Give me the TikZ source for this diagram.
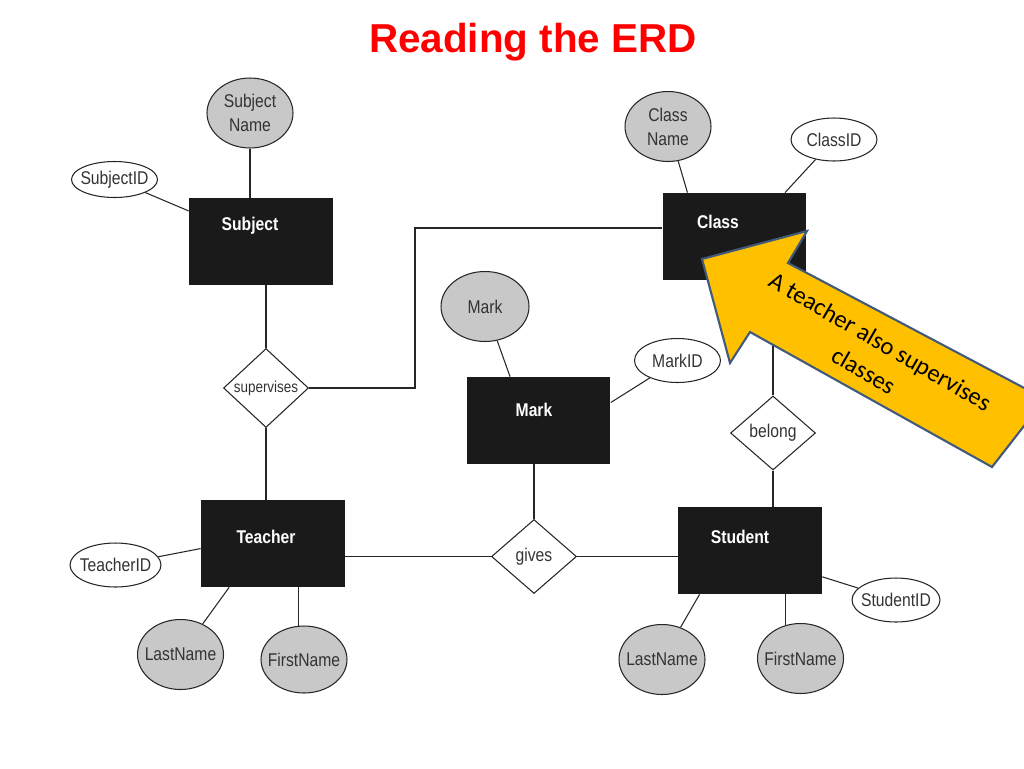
\documentclass[tikz,border=0pt]{standalone}
\usepackage{fontspec}
\newfontfamily\erdfont{Liberation Sans}[FakeStretch=0.85]
\newfontfamily\notefont{Carlito}
\newfontfamily\titlefont{Liberation Sans}
\usetikzlibrary{shapes.geometric}
\definecolor{erdgrey}{HTML}{C8C8C8}
\definecolor{erdline}{HTML}{262626}
\definecolor{erdtext}{HTML}{333333}
\definecolor{erdbox}{HTML}{1A1A1A}
\definecolor{notefill}{HTML}{FFC000}
\definecolor{noteline}{HTML}{41597A}
\definecolor{titlered}{HTML}{FF0000}
\begin{document}
\begin{tikzpicture}[x=0.02cm,y=-0.02cm,
	font=\erdfont\fontsize{10.5}{13.6}\selectfont,text=erdtext,
	entity/.style={rectangle,fill=erdbox,minimum width=2.88cm,minimum height=1.74cm,inner sep=0pt},
	ename/.style={text=white,font=\erdfont\bfseries\fontsize{10.5}{12.6}\selectfont},
	relation/.style={diamond,draw=erdline,fill=white,line width=0.6pt,inner sep=0pt,minimum width=1.7cm,minimum height=1.48cm},
	attr/.style={ellipse,draw=erdline,line width=0.6pt,inner sep=0pt,minimum width=1.72cm,minimum height=1.4cm},
	nameattr/.style={attr,fill=erdgrey},
	keyattr/.style={attr,fill=white,minimum height=0.88cm},
	link/.style={draw=erdline,line width=0.6pt}]
	\useasboundingbox (0,0) rectangle (1024,768);
	\node[text=titlered,font=\titlefont\bfseries\fontsize{23}{27}\selectfont,anchor=base] (title) at (533,52) {Reading the ERD};
	\node[entity,label={[ename,xshift=-0.22cm,yshift=0.31cm]center:Subject}] (subject) at (261,241.5) {};
	\node[entity,label={[ename,xshift=-0.33cm,yshift=0.29cm]center:Class}] (class) at (734.5,236.5) {};
	\node[entity,label={[ename,xshift=-0.09cm,yshift=0.21cm]center:Mark}] (mark) at (538.5,420.5) {};
	\node[entity,label={[ename,xshift=-0.14cm,yshift=0.13cm]center:Teacher}] (teacher) at (273,543.5) {};
	\node[entity,label={[ename,xshift=-0.2cm,yshift=0.27cm]center:Student}] (student) at (750,550.5) {};
	\node[relation,font=\erdfont\fontsize{9}{11}\selectfont] (supervises) at (266,388) {supervises};
	\node[relation] (gives) at (534,556.5) {gives};
	\node[relation] (belong) at (773,433) {belong};
	\node[nameattr,label={[align=center]center:Subject\\Name}] (subjname) at (250,113) {};
	\node[keyattr,minimum height=0.72cm,label=center:SubjectID] (subjid) at (114.5,179.5) {};
	\node[nameattr,label={[align=center]center:Class\\Name}] (classname) at (668,126.5) {};
	\node[keyattr,minimum height=0.86cm,label=center:ClassID] (classid) at (834,139.5) {};
	\node[nameattr,minimum width=1.76cm,label=center:Mark] (markattr) at (485,306.5) {};
	\node[keyattr,label=center:MarkID] (markid) at (677.5,360.5) {};
	\node[keyattr,minimum width=1.82cm,label=center:TeacherID] (teacherid) at (115.5,565) {};
	\node[nameattr,label=center:LastName] (tlast) at (180.5,654.5) {};
	\node[nameattr,minimum height=1.34cm,label=center:FirstName] (tfirst) at (304,659.5) {};
	\node[nameattr,label=center:LastName] (slast) at (662,659.5) {};
	\node[nameattr,label=center:FirstName] (sfirst) at (800.5,658.5) {};
	\node[keyattr,minimum width=1.76cm,label=center:StudentID] (studentid) at (896,600) {};
	\coordinate (bend) at (415,228);
	\draw[link] (subjname) -- (subjname |- subject.north);
	\draw[link] (subjid) -- (subject);
	\draw[link] (supervises.north) -- (supervises.north |- subject.south);
	\draw[link] (supervises.south) -- (supervises.south |- teacher.north);
	\draw[link] (supervises.east) -| (bend) -- (bend -| class.west);
	\draw[link] (class.137) -- (classname);
	\draw[link] (class.41) -- (classid);
	\draw[link] (belong.north) -- (belong.north |- class.south);
	\draw[link] (belong.south) -- (belong.south |- student.north);
	\draw[link] (mark.123) -- (markattr);
	\draw[link] (mark.14) -- (markid);
	\draw[link] (gives.north) -- (gives.north |- mark.south);
	\draw[link] (gives.west) -- (gives.west -| teacher.east);
	\draw[link] (gives.east) -- (gives.east -| student.west);
	\draw[link] (teacher.184) -- (teacherid);
	\draw[link] (teacher.225) -- (tlast);
	\draw[link] (tfirst.100) -- (tfirst.100 |- teacher.south);
	\draw[link] (student.221) -- (slast);
	\draw[link] (sfirst.115) -- (sfirst.115 |- student.south);
	\draw[link] (student.340) -- (studentid);
	\draw[fill=notefill,draw=noteline,line width=1.2pt] (807,231) -- (788,263) -- (1045,399) -- (992,467) -- (750,332) -- (730,363) -- (702,259) -- cycle;
	\node[rotate=-30,align=center,text=black,font=\notefont\fontsize{14}{19}\selectfont] (note) at (872,356) {A teacher also supervises\\classes};
\end{tikzpicture}
\end{document}
